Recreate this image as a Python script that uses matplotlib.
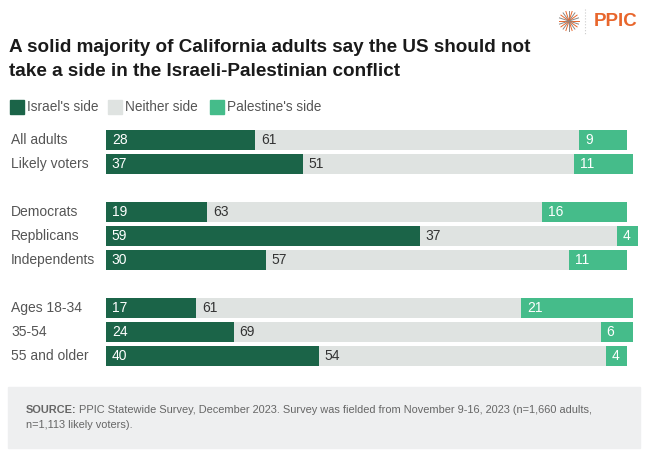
import numpy as np
import matplotlib.pyplot as plt
from matplotlib.patches import Rectangle
from matplotlib.transforms import blended_transform_factory

plt.rcParams['font.family'] = ['Liberation Sans', 'DejaVu Sans']

# data
groups = ['All adults', 'Likely voters', 'Democrats', 'Repblicans', 'Independents',
          'Ages 18-34', '35-54', '55 and older']
rows = [0, 1, 3, 4, 5, 7, 8, 9]
israel = [28, 37, 19, 59, 30, 17, 24, 40]
neither = [61, 51, 63, 37, 57, 61, 69, 54]
palestine = [9, 11, 16, 4, 11, 21, 6, 4]
series_names = ["Israel's side", 'Neither side', "Palestine's side"]
colors = ['#1b6448', '#dfe3e1', '#45bc8a']
text_colors = ['white', '#333333', 'white']

W, H = 650, 459
fig = plt.figure(figsize=(6.5, 4.59), dpi=100)

def fx(px):
    return px / W

def fy(py):
    return 1 - py / H

# title
fig.text(fx(9), fy(47), 'A solid majority of California adults say the US should not',
         fontsize=13.6, fontweight='bold', color='#1a1a1a', va='center')
fig.text(fx(9), fy(71), 'take a side in the Israeli-Palestinian conflict',
         fontsize=13.6, fontweight='bold', color='#1a1a1a', va='center')

# legend
lx = [10, 108, 210]
for x0, name, c in zip(lx, series_names, colors):
    fig.patches.append(Rectangle((fx(x0), fy(114)), fx(14), 14 / H, color=c,
                                 transform=fig.transFigure))
    fig.text(fx(x0 + 17), fy(107), name, fontsize=9.8, color='#555555', va='center')

# logo
cx, cy = 569, 21
for i, ang in enumerate(np.linspace(0, np.pi, 10, endpoint=False)):
    dx, dy = 10 * np.cos(ang), 10 * np.sin(ang)
    col = '#e8662c' if i % 2 == 0 else '#888888'
    fig.add_artist(plt.Line2D([fx(cx - dx), fx(cx + dx)], [fy(cy - dy), fy(cy + dy)],
                              transform=fig.transFigure, color=col, lw=0.7))
fig.add_artist(plt.Line2D([fx(585), fx(585)], [fy(9), fy(35)], transform=fig.transFigure,
                          color='#cccccc', lw=0.8, ls=':'))
fig.text(fx(594), fy(22), 'PPIC', fontsize=13.5, fontweight='bold', color='#e8662c',
         va='center')

# bars
ax = fig.add_axes([fx(106), fy(368), fx(638) - fx(106), 240 / H])
left = np.zeros(len(groups))
for vals, c, tc in zip([israel, neither, palestine], colors, text_colors):
    ax.barh(rows, vals, left=left, height=0.83, color=c)
    for r, l, v in zip(rows, left, vals):
        ax.text(l + 1.1, r, str(v), color=tc, fontsize=10, va='center', ha='left')
    left = left + np.array(vals)

ax.set_xlim(0, 100)
ax.set_ylim(9.5, -0.5)
ax.axis('off')
lab_tr = blended_transform_factory(fig.transFigure, ax.transData)
for r, g in zip(rows, groups):
    ax.text(fx(11), r, g, transform=lab_tr, fontsize=10, color='#555555',
            va='center', ha='left')

# source box
fig.patches.append(Rectangle((fx(8), fy(448)), fx(640) - fx(8), 61 / H, color='#eeeff0',
                             transform=fig.transFigure, zorder=0))
src = fig.text(fx(26), fy(410), 'SOURCE:', fontsize=7.9, fontweight='bold', color='#666666',
               va='center')
fig.add_artist(plt.Annotation(
    'PPIC Statewide Survey, December 2023. Survey was fielded from '
    'November 9-16, 2023 (n=1,660 adults,', xy=(1, 0.5), xycoords=src,
    xytext=(1.5, 0), textcoords='offset points', fontsize=7.9, color='#666666',
    va='center', ha='left'))
fig.text(fx(26), fy(425), 'n=1,113 likely voters).', fontsize=7.9, color='#666666',
         va='center')

fig.savefig('out.png', dpi=100)
